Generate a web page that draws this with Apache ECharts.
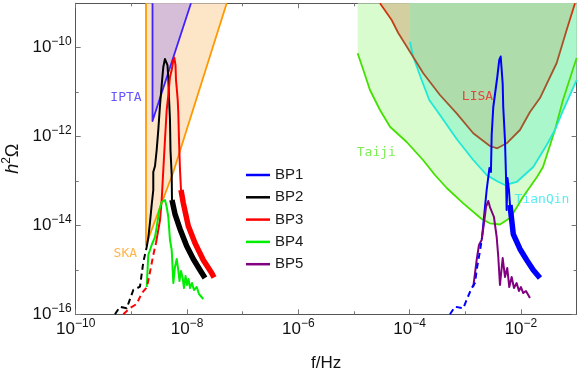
<!DOCTYPE html>
<html>
<head>
<meta charset="utf-8">
<script src="https://cdn.jsdelivr.net/npm/echarts@6/dist/echarts.min.js"></script>
<style>
  html, body { margin: 0; padding: 0; background: #fff; }
  #chart { width: 581px; height: 372px; }
</style>
</head>
<body>
<div id="chart"></div>
<script>
// all points, stored as [log10 f, log10 h^2 Omega]
var xMajor = [-10, -8, -6, -4, -2];
var xMinor = [-9, -7, -5, -3];
var yMajor = [-16, -14, -12, -10];
var yMinor = [-15, -13, -11];

// detector sensitivity curves
var skaEdge = [[-8.737, -9.0], [-8.737, -14.44], [-8.246, -12.797], [-7.287, -9.0]];
var iptaEdge = [[-8.62, -9.0], [-8.62, -11.649], [-7.929, -9.0]];
var taijiCurve = [[-4.934, -10.126], [-4.802, -10.614], [-4.713, -10.952], [-4.533, -11.402], [-4.353, -11.778],
  [-4.053, -12.122], [-3.760, -12.527], [-3.545, -12.865], [-3.334, -13.157], [-3.036, -13.502], [-2.706, -13.855],
  [-2.557, -13.952], [-2.377, -13.979], [-2.197, -13.833], [-2.071, -13.585], [-1.964, -13.36], [-1.838, -13.135],
  [-1.712, -12.91], [-1.604, -12.685], [-1.389, -11.852], [-1.245, -11.177], [-1.0, -10.231]];
var tianqinCurve = [[-3.994, -9.864], [-3.935, -10.202], [-3.784, -10.727], [-3.647, -11.177], [-3.455, -11.514],
  [-3.155, -12.054], [-2.857, -12.527], [-2.616, -12.865], [-2.436, -13.0], [-2.287, -13.09], [-2.077, -13.022],
  [-1.779, -12.685], [-1.538, -12.189], [-1.389, -11.852], [-1.240, -11.402], [-1.0, -10.727]];
var lisaCurve = [[-4.533, -9.0], [-4.323, -9.376], [-4.204, -9.669], [-3.994, -10.09], [-3.755, -10.576],
  [-3.455, -11.064], [-3.155, -11.476], [-2.857, -11.926], [-2.557, -12.212], [-2.425, -12.264], [-2.257, -12.151],
  [-2.018, -11.852], [-1.838, -11.447], [-1.658, -11.132], [-1.358, -10.344], [-1.179, -9.601], [-1.029, -9.0]];

// benchmark spectra
var bp1Dash = [[-3.275, -16.0], [-3.185, -15.829], [-3.036, -15.865], [-2.970, -15.656], [-2.885, -15.408],
  [-2.826, -15.296], [-2.790, -14.958], [-2.736, -14.575], [-2.700, -14.283]];
var bp1Solid = [[-2.700, -14.283], [-2.664, -13.81], [-2.616, -13.202], [-2.584, -12.887], [-2.566, -12.707],
  [-2.539, -12.797], [-2.526, -11.964], [-2.497, -11.334], [-2.449, -10.884], [-2.425, -10.659], [-2.390, -10.276],
  [-2.364, -10.198], [-2.346, -10.501], [-2.328, -10.817], [-2.318, -11.334], [-2.287, -12.077], [-2.269, -12.865],
  [-2.257, -13.652], [-2.242, -12.932], [-2.215, -13.202], [-2.197, -13.54]];
var bp1Tail = [[-2.197, -13.54], [-2.138, -14.193], [-2.018, -14.53], [-1.897, -14.778], [-1.779, -15.003], [-1.658, -15.183]];

var bp2Dash = [[-9.294, -16.0], [-9.204, -15.829], [-9.084, -15.865], [-8.965, -15.453], [-8.845, -15.379],
  [-8.785, -14.823], [-8.724, -14.485]];
var bp2Solid = [[-8.724, -14.485], [-8.696, -14.283], [-8.665, -13.923], [-8.635, -13.54], [-8.606, -13.202],
  [-8.606, -12.797], [-8.575, -12.662], [-8.545, -12.302], [-8.516, -11.852], [-8.485, -11.289], [-8.455, -10.839],
  [-8.426, -10.434], [-8.396, -10.254], [-8.378, -10.225], [-8.351, -10.389], [-8.336, -10.682], [-8.324, -11.109],
  [-8.306, -11.627], [-8.297, -12.302], [-8.275, -12.865], [-8.270, -13.427]];
var bp2Tail = [[-8.270, -13.427], [-8.216, -13.743], [-8.126, -14.08], [-8.006, -14.463], [-7.887, -14.755],
  [-7.767, -15.003], [-7.677, -15.183]];

var bp3Dash = [[-9.145, -16.0], [-9.024, -15.858], [-8.904, -15.768], [-8.814, -15.527], [-8.719, -15.386],
  [-8.665, -15.048], [-8.606, -14.665], [-8.557, -14.395]];
var bp3Solid = [[-8.557, -14.395], [-8.485, -13.878], [-8.455, -13.427], [-8.426, -12.752], [-8.396, -12.077],
  [-8.365, -11.402], [-8.336, -11.064], [-8.306, -10.659], [-8.275, -10.501], [-8.246, -10.276], [-8.229, -10.225],
  [-8.207, -10.389], [-8.198, -10.727], [-8.185, -10.907], [-8.167, -11.177], [-8.157, -11.447], [-8.144, -12.077],
  [-8.126, -12.752], [-8.108, -13.202]];
var bp3Tail = [[-8.108, -13.202], [-8.067, -13.495], [-7.977, -14.013], [-7.857, -14.395], [-7.708, -14.778],
  [-7.557, -15.07], [-7.515, -15.172]];

var bp4Curve = [[-8.724, -15.386], [-8.696, -14.665], [-8.635, -14.44], [-8.575, -14.26], [-8.545, -14.035],
  [-8.498, -13.652], [-8.455, -13.472], [-8.426, -13.495], [-8.396, -13.427], [-8.365, -13.585], [-8.336, -13.81],
  [-8.306, -14.328], [-8.275, -14.553], [-8.246, -15.296], [-8.216, -14.935], [-8.185, -14.755], [-8.157, -15.003],
  [-8.135, -15.251], [-8.108, -15.025], [-8.078, -15.183], [-8.054, -15.408], [-8.027, -15.138], [-8.000, -15.341],
  [-7.973, -15.205], [-7.946, -15.408], [-7.911, -15.296], [-7.875, -15.453], [-7.826, -15.386], [-7.785, -15.543],
  [-7.708, -15.656]];

var bp5Curve = [[-2.857, -15.386], [-2.796, -14.778], [-2.754, -14.44], [-2.706, -14.328], [-2.664, -13.945],
  [-2.628, -13.585], [-2.587, -13.45], [-2.575, -13.427], [-2.557, -13.585], [-2.526, -13.54], [-2.485, -13.81],
  [-2.436, -14.26], [-2.407, -14.71], [-2.377, -15.341], [-2.328, -14.733], [-2.287, -15.16], [-2.246, -14.958],
  [-2.210, -15.386], [-2.167, -15.16], [-2.125, -15.408], [-2.077, -15.296], [-2.036, -15.476], [-2.000, -15.386],
  [-1.958, -15.521], [-1.910, -15.476], [-1.838, -15.633]];

var bpNames = ['BP1', 'BP2', 'BP3', 'BP4', 'BP5'];
var bpColors = ['#0000ff', '#000000', '#ff0000', '#00ee00', '#800080'];

// text labels: name, position
var tagNames = ['IPTA', 'SKA', 'LISA', 'Taiji', 'TianQin'];
var tagPos = [[-9.096, -11.125], [-9.109, -14.627], [-2.781, -11.102], [-4.599, -12.363], [-1.622, -13.427]];
var tagColors = ['#3f2cff', '#ffa31a', '#ee2222', '#5ee82a', '#2ae8ee'];

var LABEL_FONT = 'Liberation Sans, Arial, sans-serif';

function toVal(pts) {
  return pts.map(function (p) { return [Math.pow(10, p[0]), Math.pow(10, p[1])]; });
}
function pow10(list) {
  return list.map(function (e) { return Math.pow(10, e); });
}
// close a curve against the top of the plot
function capTop(pts) {
  return [[pts[0][0], -9.0]].concat(pts, [[pts[pts.length - 1][0], -9.0]]);
}

function supLabel(v) {
  var e = Math.round(Math.log10(v));
  return '{b|10}{s|' + (e < 0 ? '\u2212' : '') + Math.abs(e) + '}';
}
var labelRich = {
  b: { fontSize: 17, lineHeight: 24, fontFamily: LABEL_FONT, color: '#111' },
  s: { fontSize: 12, lineHeight: 9, verticalAlign: 'top', fontFamily: LABEL_FONT, color: '#111' }
};

function makeAxis(dim, pos, major, withLine) {
  return {
    type: 'log', logBase: 10, position: pos,
    min: dim === 'x' ? 1e-10 : 1e-16,
    max: dim === 'x' ? 1e-1 : 1e-9,
    interval: 1,
    axisLine: { show: withLine, lineStyle: { color: '#555', width: 1 } },
    axisTick: {
      show: true, inside: true, length: major ? 5 : 3,
      lineStyle: { color: '#777' },
      customValues: pow10(major ? (dim === 'x' ? xMajor : yMajor) : (dim === 'x' ? xMinor : yMinor))
    },
    axisLabel: { show: false },
    splitLine: { show: false }
  };
}

var xAxes = [makeAxis('x', 'bottom', true, true), makeAxis('x', 'bottom', false, false),
  makeAxis('x', 'top', true, true), makeAxis('x', 'top', false, false)];
var yAxes = [makeAxis('y', 'left', true, true), makeAxis('y', 'left', false, false),
  makeAxis('y', 'right', true, true), makeAxis('y', 'right', false, false)];

xAxes[0].axisLabel = { show: true, margin: 3, customValues: pow10(xMajor), formatter: supLabel, rich: labelRich,
  showMinLabel: true };
xAxes[0].name = 'f/Hz';
xAxes[0].nameLocation = 'middle';
xAxes[0].nameGap = 41;
xAxes[0].nameTextStyle = { fontSize: 17, fontFamily: LABEL_FONT, color: '#111' };

yAxes[0].axisLabel = { show: true, margin: 4, customValues: pow10(yMajor), formatter: supLabel, rich: labelRich,
  showMinLabel: true };
yAxes[0].name = '{i|h}{s|2}{n|\u03a9}';
yAxes[0].nameLocation = 'middle';
yAxes[0].nameGap = 48;
yAxes[0].nameTextStyle = {
  rich: {
    i: { fontSize: 18, fontStyle: 'italic', fontFamily: LABEL_FONT, color: '#111', lineHeight: 24 },
    s: { fontSize: 12, fontFamily: LABEL_FONT, color: '#111', verticalAlign: 'top', lineHeight: 9 },
    n: { fontSize: 18, fontFamily: LABEL_FONT, color: '#111', lineHeight: 24 }
  }
};

function fill(pts, color, z) {
  var shape = toVal(pts);
  return {
    type: 'custom', coordinateSystem: 'cartesian2d', clip: true, silent: true, z: z,
    data: shape,
    renderItem: function (params, api) {
      if (params.dataIndex !== 0) return null;
      return {
        type: 'polygon',
        shape: { points: shape.map(function (p) { return api.coord(p); }) },
        style: { fill: color, stroke: null }
      };
    }
  };
}

function curve(name, pts, color, width, dashed, z) {
  return {
    name: name, type: 'line', data: toVal(pts), symbol: 'none', z: z, silent: true,
    lineStyle: { color: color, width: width, type: dashed ? [6, 4] : 'solid', join: 'round' },
    itemStyle: { color: color },
    emphasis: { disabled: true }
  };
}

function tag(i) {
  return {
    type: 'scatter', data: toVal([tagPos[i]]), symbolSize: 0, z: 5, silent: true,
    label: {
      show: true, position: 'inside', formatter: tagNames[i], color: tagColors[i],
      fontFamily: 'DejaVu Sans Mono', fontSize: 13
    }
  };
}

var lisaLeft = lisaCurve.filter(function (p) { return p[0] <= -3.994; });
var lisaRight = lisaCurve.filter(function (p) { return p[0] >= -3.994; });

var lisaColor = new echarts.graphic.LinearGradient(0, 0, 0, 1, [
  { offset: 0, color: '#e02a06' }, { offset: 0.28, color: '#a8522a' }, { offset: 1, color: '#a0562e' }
]);

var series = [
  // BP solid parts first so the legend picks their style
  curve('BP1', bp1Solid, bpColors[0], 2, false, 6),
  curve('BP2', bp2Solid, bpColors[1], 2, false, 6),
  curve('BP3', bp3Solid, bpColors[2], 2, false, 6),
  curve('BP4', bp4Curve, bpColors[3], 2, false, 6),
  curve('BP5', bp5Curve, bpColors[4], 2, false, 6),
  curve('BP1', bp1Dash, bpColors[0], 2, true, 6),
  curve('BP2', bp2Dash, bpColors[1], 2, true, 6),
  curve('BP3', bp3Dash, bpColors[2], 2, true, 6),
  curve('BP1', bp1Tail, bpColors[0], 5.5, false, 6),
  curve('BP2', bp2Tail, bpColors[1], 5.5, false, 6),
  curve('BP3', bp3Tail, bpColors[2], 5.5, false, 6),

  fill(skaEdge, '#fde6c8', 1),
  fill(iptaEdge, '#d6bed8', 1),
  fill(capTop(taijiCurve), '#d8fcce', 1),
  fill(capTop(tianqinCurve), '#aaf7cc', 1),
  fill(lisaLeft.concat([[-3.994, -9.0]]), '#d4cfa0', 1),
  fill([[-3.994, -9.0]].concat(lisaRight), '#aedcaa', 1),

  curve('SKA', skaEdge, '#ff9900', 1.8, false, 3),
  curve('IPTA', iptaEdge, '#3f22ff', 1.8, false, 3),
  curve('Taiji', taijiCurve, '#44e000', 1.8, false, 3),
  curve('TianQin', tianqinCurve, '#20e8d8', 1.8, false, 3),
  curve('LISA', lisaCurve, lisaColor, 1.8, false, 3)
];
for (var i = 0; i < tagNames.length; i++) series.push(tag(i));

var chart = echarts.init(document.getElementById('chart'), null, { renderer: 'canvas' });
chart.setOption({
  animation: false,
  backgroundColor: '#fff',
  grid: { left: 75.7, right: 4.4, top: 3.3, bottom: 57.7, containLabel: false, outerBoundsMode: 'none' },
  xAxis: xAxes,
  yAxis: yAxes,
  legend: {
    data: bpNames, orient: 'vertical', left: 246, top: 167, padding: 0,
    icon: 'rect', itemWidth: 24, itemHeight: 2.5, itemGap: 6.3,
    textStyle: { fontSize: 15, fontFamily: LABEL_FONT, color: '#1a1a1a', lineHeight: 16 },
    selectedMode: false
  },
  series: series
});
</script>
</body>
</html>
